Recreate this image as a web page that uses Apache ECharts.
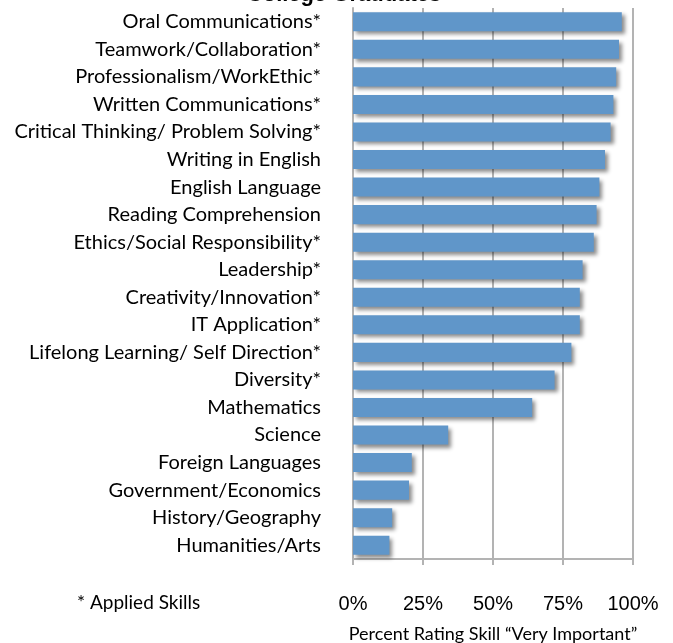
<!DOCTYPE html>
<html>
<head>
<meta charset="utf-8">
<script src="https://cdn.jsdelivr.net/npm/echarts@6/dist/echarts.min.js"></script>
<style>
html,body{margin:0;padding:0;background:#fff;}
#chart{width:673px;height:643px;}
</style>
</head>
<body>
<div id="chart"></div>
<script>
const skills = [
  "Oral Communications*",
  "Teamwork/Collaboration*",
  "Professionalism/WorkEthic*",
  "Written Communications*",
  "Critical Thinking/ Problem Solving*",
  "Writing in English",
  "English Language",
  "Reading Comprehension",
  "Ethics/Social Responsibility*",
  "Leadership*",
  "Creativity/Innovation*",
  "IT Application*",
  "Lifelong Learning/ Self Direction*",
  "Diversity*",
  "Mathematics",
  "Science",
  "Foreign Languages",
  "Government/Economics",
  "History/Geography",
  "Humanities/Arts"
];
const percentVeryImportant = [96, 95, 94, 93, 92, 90, 88, 87, 86, 82, 81, 81, 78, 72, 64, 34, 21, 20, 14, 13];
const tickValues = [0, 25, 50, 75, 100];
const titleText = "College Graduates";
const axisTitle = "Percent Rating Skill \u201cVery Important\u201d";
const footnote = "* Applied Skills";

const chart = echarts.init(document.getElementById('chart'), null, {renderer: 'canvas'});
const grey = '#b3b3b3';
const labelFont = 'Lato, "Open Sans", sans-serif';
chart.setOption({
  animation: false,
  backgroundColor: '#ffffff',
  grid: {left: 353, right: 40, top: 8, bottom: 84, containLabel: false, outerBoundsMode: 'none'},
  graphic: [
    {type: 'text', style: {text: titleText, x: 344, y: 6, align: 'center', verticalAlign: 'bottom', font: 'bold 22px "Liberation Sans", Arial, sans-serif', fill: '#000'}},
    {type: 'text', style: {text: footnote, x: 77, y: 603, verticalAlign: 'middle', font: '19px ' + labelFont, fill: '#000'}}
  ],
  xAxis: {
    type: 'value', min: tickValues[0], max: tickValues[tickValues.length - 1], interval: 25,
    axisLine: {show: true, lineStyle: {color: grey, width: 2}},
    axisTick: {show: true, length: 6, lineStyle: {color: grey, width: 2}},
    splitLine: {show: true, lineStyle: {color: grey, width: 2}},
    axisLabel: {formatter: '{value}%', margin: 35, fontSize: 20, color: '#000', fontFamily: '"Liberation Sans", Arial, sans-serif'},
    name: axisTitle, nameLocation: 'middle', nameGap: 66,
    nameTextStyle: {fontSize: 18, color: '#000', fontFamily: labelFont}
  },
  yAxis: {
    type: 'category', data: skills, inverse: true,
    axisLine: {show: true, lineStyle: {color: grey, width: 2}},
    axisTick: {show: false},
    axisLabel: {margin: 32, fontSize: 20, color: '#000', fontFamily: labelFont}
  },
  series: [{
    type: 'bar', data: percentVeryImportant, barCategoryGap: '31%',
    itemStyle: {color: '#6096c9', shadowColor: 'rgba(0,0,0,0.45)', shadowBlur: 4, shadowOffsetX: 3, shadowOffsetY: 3}
  }]
});
</script>
</body>
</html>
